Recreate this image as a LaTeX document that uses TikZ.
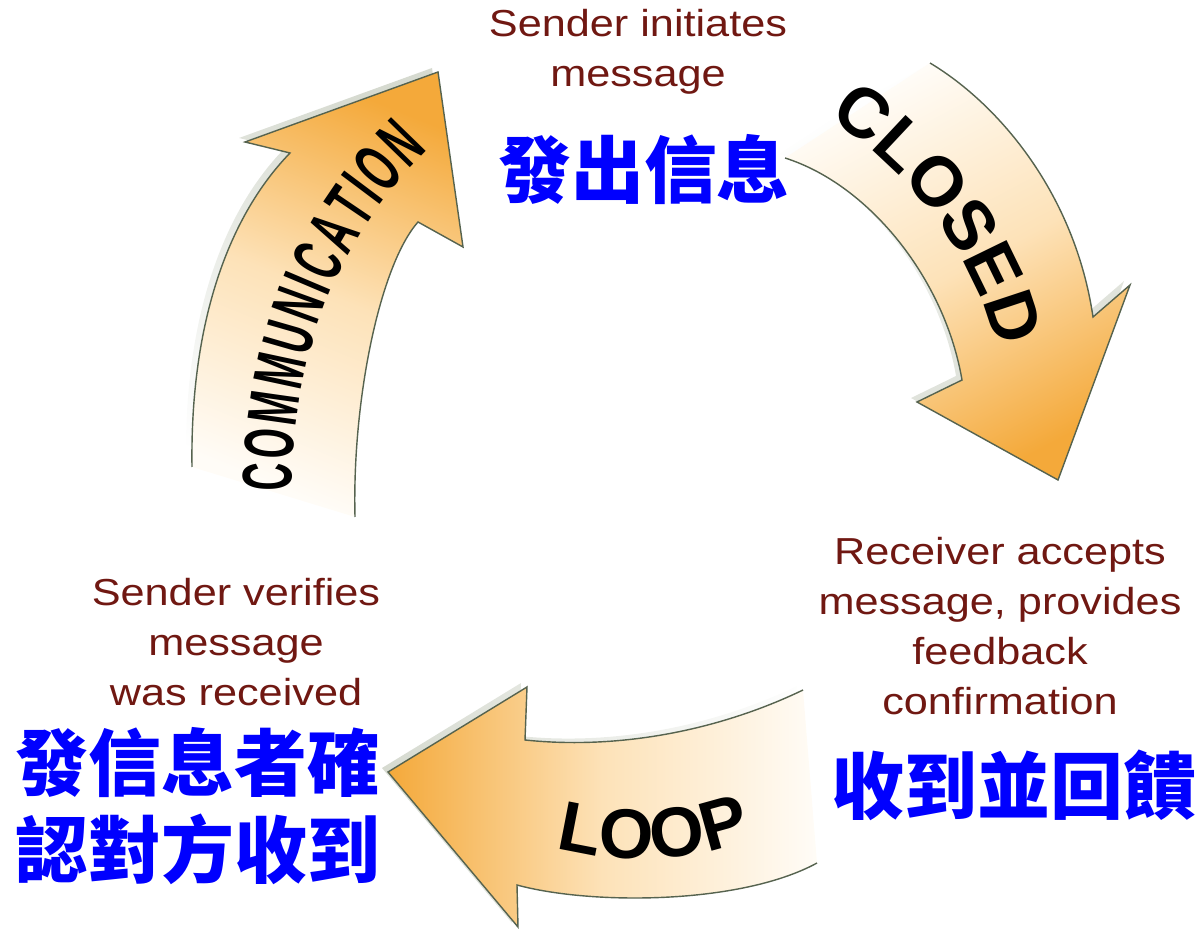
\documentclass[tikz,border=0pt]{standalone}
\usepackage{fontspec}
\usetikzlibrary{decorations.text}
\newfontfamily\notefont[FakeStretch=1.15]{Liberation Sans}
\newfontfamily\wordfont{Liberation Sans}
\newfontfamily\narrowfont[FakeStretch=0.55]{Liberation Sans}
\newfontfamily\cjk{Noto Sans CJK TC}
\newcommand\bandsize{\bfseries\fontsize{40}{40}\selectfont}
\definecolor{notered}{RGB}{112,24,18}
\definecolor{tipor}{RGB}{244,169,58}
\definecolor{midpeach}{RGB}{253,226,184}
\definecolor{tailwh}{RGB}{255,252,247}
\definecolor{rimgreen}{RGB}{86,99,79}
\definecolor{shadowgr}{RGB}{214,218,208}
\begin{document}
\begin{tikzpicture}[
		x=0.02cm, y=0.02cm,
		rim/.style={draw=rimgreen, line width=0.8pt, line join=miter},
		band/.style={top color=tipor, bottom color=tailwh, middle color=midpeach},
		shadowband/.style={top color=shadowgr, bottom color=white},
		note/.style={font=\notefont\fontsize{21.4}{28.5}\selectfont, text=notered, align=center, inner sep=0pt},
		cjkbox/.style={font=\cjk\bfseries\fontsize{41.5}{50}\selectfont, text=blue, align=center, inner sep=0pt},
		word/.style={decorate, decoration={text along path, text align={fit to path}}}
	]
	\useasboundingbox (0,0) rectangle (1202,933);
	\draw[rim,
		preaction={shadowband, shading angle=-22, transform canvas={xshift=-0.12cm, yshift=0.08cm}},
		preaction={band, shading angle=-22}]
		(192,466) .. controls (190,603) and (225,713) .. (290,780) -- (245,791) -- (438,861)
		-- (463,686) -- (418,711) .. controls (380,668) and (352,533) .. (355,416);
	\draw[rim,
		preaction={shadowband, shading angle=-152, transform canvas={xshift=-0.12cm, yshift=0.08cm}},
		preaction={band, shading angle=-152}]
		(930,870) .. controls (1000,828) and (1075,738) .. (1093,616) -- (1130,648) -- (1058,453)
		-- (917,531) -- (962,553) .. controls (945,653) and (870,748) .. (785,775);
	\draw[rim,
		preaction={shadowband, shading angle=90, transform canvas={xshift=-0.12cm, yshift=0.08cm}},
		preaction={band, shading angle=90}]
		(803,243) .. controls (720,203) and (620,183) .. (525,193) -- (527,246) -- (388,161)
		-- (518,6) -- (517,48) .. controls (590,28) and (740,28) .. (817,70);
	\path[word, decoration={text={|\narrowfont\bandsize|COMMUNICATION}}]
		(292,441) .. controls (292,583) and (340,698) .. (428,783);
	\path[word, decoration={text={|\wordfont\bandsize|CLOSED}}]
		(828,815) .. controls (905,768) and (970,683) .. (995,593);
	\path[word, decoration={text={|\wordfont\bandsize|LOOP}}]
		(556,85) .. controls (610,69) and (690,71) .. (750,93);
	\node[note] (start) at (638,881) {Sender initiates\\message};
	\node[cjkbox] (startzh) at (644,763) {發出信息};
	\node[note] (reply) at (1000,307) {Receiver accepts\\message, provides\\feedback\\confirmation};
	\node[cjkbox] (replyzh) at (1014,148) {收到並回饋};
	\node[note] (check) at (236,291) {Sender verifies\\message\\was received};
	\node[cjkbox] (checkzh) at (198,127) {發信息者確\\認對方收到};
\end{tikzpicture}
\end{document}
